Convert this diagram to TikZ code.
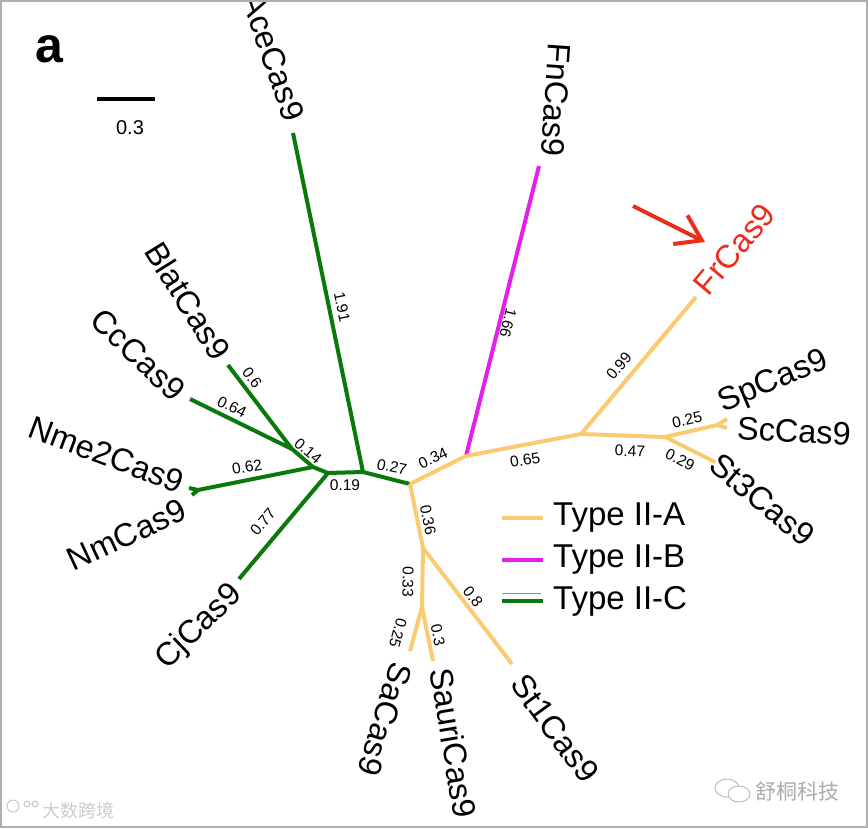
\documentclass[tikz,border=0pt]{standalone}
\usepackage{fontspec}
\setmainfont{Liberation Sans}
\newfontfamily\cjk{Noto Sans CJK SC}
\usetikzlibrary{arrows.meta}

\definecolor{typeA}{RGB}{250,203,115}
\definecolor{typeB}{RGB}{228,30,236}
\definecolor{typeC}{RGB}{10,120,10}
\definecolor{frred}{RGB}{235,45,30}
\definecolor{framegray}{RGB}{175,175,175}

\begin{document}
\begin{tikzpicture}[x=1pt, y=-1pt,
    branchA/.style={draw=typeA, line width=4pt, line join=round},
    branchB/.style={draw=typeB, line width=4pt, line join=round},
    branchC/.style={draw=typeC, line width=4pt, line join=round},
    tiplabel/.style={font=\fontsize{32.5}{38}\selectfont, inner sep=0pt},
    blen/.style={font=\fontsize{15.5}{18}\selectfont, inner sep=0pt},
    legtext/.style={font=\fontsize{33}{38}\selectfont, anchor=west, inner sep=0pt}]
    \path[use as bounding box, clip] (0,0) rectangle (868,828);

    % --- Tree vertices ---
    \coordinate (root) at (410,484);
    \coordinate (hA) at (466,456);
    \coordinate (iA) at (581,434);
    \coordinate (jA) at (665,437);
    \coordinate (spsc) at (717,425);
    \coordinate (spTip) at (727,419);
    \coordinate (scTip) at (727,428);
    \coordinate (st3Tip) at (715,462);
    \coordinate (frTip) at (696,297);
    \coordinate (fnTip) at (539,166);
    \coordinate (kA) at (423,548);
    \coordinate (lA) at (422,607);
    \coordinate (saTip) at (410,651);
    \coordinate (sauriTip) at (433,661);
    \coordinate (st1Tip) at (512,664);
    \coordinate (gA) at (363,472);
    \coordinate (gB) at (328,473);
    \coordinate (gC) at (313,467);
    \coordinate (gD) at (292,449);
    \coordinate (aceTip) at (293,133);
    \coordinate (blatTip) at (228,365);
    \coordinate (ccTip) at (190,399);
    \coordinate (nmFork) at (198,490);
    \coordinate (nme2Tip) at (189,488);
    \coordinate (nmTip) at (192,495);
    \coordinate (cjTip) at (239,579);

    % --- Type II-C branches ---
    \draw[branchC] (root) -- (gA) -- (aceTip);
    \draw[branchC] (gA) -- (gB) -- (cjTip);
    \draw[branchC] (gB) -- (gC) -- (nmFork) -- (nme2Tip);
    \draw[branchC] (nmFork) -- (nmTip);
    \draw[branchC] (gC) -- (gD) -- (blatTip);
    \draw[branchC] (gD) -- (ccTip);

    % --- Type II-B branch ---
    \draw[branchB] (hA) -- (fnTip);

    % --- Type II-A branches ---
    \draw[branchA] (root) -- (hA) -- (iA) -- (frTip);
    \draw[branchA] (iA) -- (jA) -- (spsc) -- (spTip);
    \draw[branchA] (spsc) -- (scTip);
    \draw[branchA] (jA) -- (st3Tip);
    \draw[branchA] (root) -- (kA) -- (lA) -- (saTip);
    \draw[branchA] (lA) -- (sauriTip);
    \draw[branchA] (kA) -- (st1Tip);

    % --- Branch lengths ---
    \node[blen, rotate=-78.5] (l191) at (342,307) {1.91};
    \node[blen, rotate=-12] (l027) at (392,467) {0.27};
    \node[blen] (l019) at (345,485) {0.19};
    \node[blen, rotate=-40] (l014) at (308,451) {0.14};
    \node[blen, rotate=10] (l062) at (247,467) {0.62};
    \node[blen, rotate=-26] (l064) at (232,407) {0.64};
    \node[blen, rotate=-53] (l06) at (252,378) {0.6};
    \node[blen, rotate=50] (l077) at (263,522) {0.77};
    \node[blen, rotate=-104] (l166) at (508,323) {1.66};
    \node[blen, rotate=25] (l034) at (433,458) {0.34};
    \node[blen, rotate=10] (l065) at (525,460) {0.65};
    \node[blen, rotate=50] (l099) at (619,366) {0.99};
    \node[blen, rotate=-2] (l047) at (630,451) {0.47};
    \node[blen, rotate=13] (l025a) at (687,420) {0.25};
    \node[blen, rotate=-27] (l029) at (680,460) {0.29};
    \node[blen, rotate=-78.5] (l036) at (428,520) {0.36};
    \node[blen, rotate=-91] (l033) at (408,582) {0.33};
    \node[blen, rotate=-105] (l025b) at (398,633) {0.25};
    \node[blen, rotate=-78.5] (l03) at (438,635) {0.3};
    \node[blen, rotate=-52.6] (l08) at (473,597) {0.8};

    % --- Tip labels ---
    \node[tiplabel, anchor=east, rotate=-71] (ace) at (295,120) {AceCas9};
    \node[tiplabel, anchor=east, rotate=-94] (fn) at (552,157) {FnCas9};
    \node[tiplabel, anchor=east, rotate=-58] (blat) at (223,357) {BlatCas9};
    \node[tiplabel, anchor=east, rotate=-44] (cc) at (180,395) {CcCas9};
    \node[tiplabel, anchor=east, rotate=-20.5] (nme2) at (183,483) {Nme2Cas9};
    \node[tiplabel, anchor=east, rotate=25] (nm) at (184,508) {NmCas9};
    \node[tiplabel, anchor=east, rotate=44] (cj) at (238,590) {CjCas9};
    \node[tiplabel, anchor=west, rotate=-107] (sa) at (402,664) {SaCas9};
    \node[tiplabel, anchor=west, rotate=-80.5] (sauri) at (441,668) {SauriCas9};
    \node[tiplabel, anchor=west, rotate=-53.8] (st1) at (518,678) {St1Cas9};
    \node[tiplabel, anchor=west, rotate=50, text=frred] (fr) at (700,290) {FrCas9};
    \node[tiplabel, anchor=west, rotate=23] (sp) at (720,405) {SpCas9};
    \node[tiplabel, anchor=west, rotate=-3] (sc) at (737,428) {ScCas9};
    \node[tiplabel, anchor=west, rotate=-39.6] (st3) at (714,460) {St3Cas9};

    % --- Red pointer to FrCas9 ---
    \coordinate (arrTail) at (633,206);
    \coordinate (arrHead) at (705,242);
    \draw[frred, line width=4pt, -{Straight Barb[length=24pt, width=32pt]}] (arrTail) -- (arrHead);

    % --- Legend ---
    \draw[typeA, line width=4pt] (502,518) -- (543,518);
    \draw[typeB, line width=4pt] (502,560) -- (543,560);
    \draw[typeC!60, line width=0.8pt] (502,593) -- (541,593);
    \draw[typeC, line width=4pt] (502,601) -- (543,601);
    \node[legtext] (legA) at (553,518) {Type II-A};
    \node[legtext] (legB) at (553,560) {Type II-B};
    \node[legtext] (legC) at (553,601) {Type II-C};

    % --- Panel letter and scale bar ---
    \node[font=\bfseries\fontsize{50}{50}\selectfont] (panel) at (49,49) {a};
    \coordinate (barL) at (97,99);
    \coordinate (barR) at (155,99);
    \draw[line width=4pt] (barL) -- (barR);
    \node[font=\fontsize{20}{24}\selectfont] (barlabel) at (130,128) {0.3};

    % --- Watermarks ---
    \draw[gray!45, line width=1pt] (13,806) circle (6);
    \draw[gray!45, line width=1pt] (27,804) circle (3);
    \draw[gray!45, line width=1pt] (35,804) circle (3);
    \node[font=\cjk\fontsize{18}{18}\selectfont, text=gray!40] (wmL) at (78,811) {大数跨境};
    \draw[gray!55, line width=0.9pt] (727,788) ellipse (12 and 9);
    \draw[gray!55, line width=0.9pt, fill=white] (739,794) ellipse (11 and 8);
    \node[font=\cjk\fontsize{21}{21}\selectfont, text=gray!65] (wmR) at (797,791) {舒桐科技};

    % --- Frame ---
    \draw[framegray, line width=2pt] (1,1) rectangle (867,827);
\end{tikzpicture}
\end{document}
